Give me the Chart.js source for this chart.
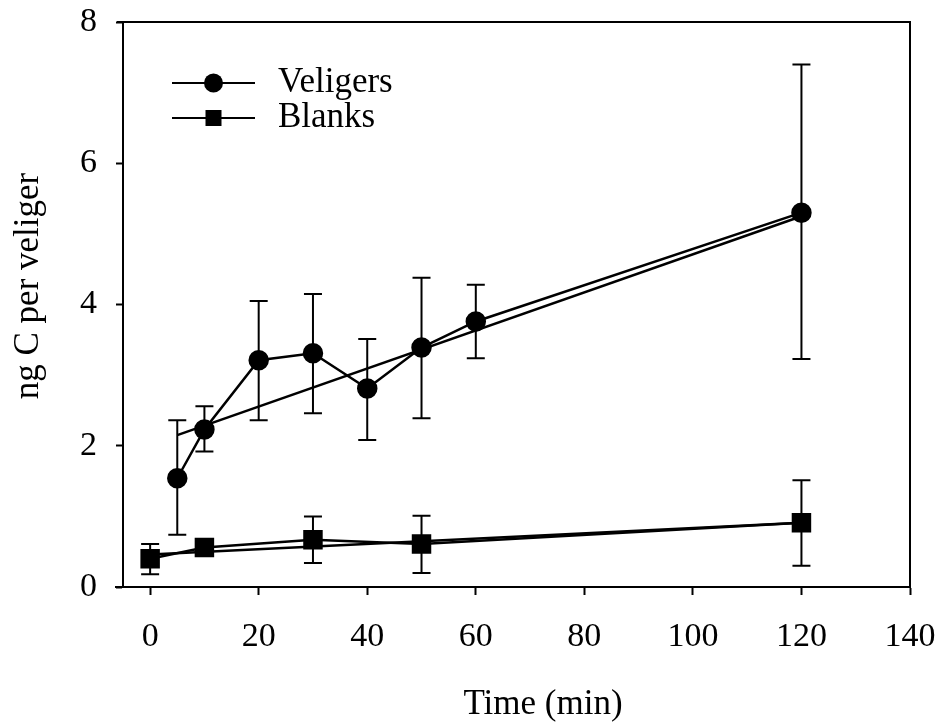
<!DOCTYPE html>
<html>
<head>
<meta charset="utf-8">
<script src="https://cdn.jsdelivr.net/npm/chart.js@4"></script>
<style>
  html, body { margin: 0; padding: 0; background: #fff; }
  #wrap { width: 945px; height: 728px; }
</style>
</head>
<body>
<div id="wrap"><canvas id="myChart" width="945" height="728"></canvas></div>
<script>
/* ---------- DATA ---------- */
const veligerX  = [5, 10, 20, 30, 40, 50, 60, 120];
const veligerY  = [1.54, 2.23, 3.21, 3.31, 2.81, 3.39, 3.76, 5.30];
const veligerHi = [2.36, 2.56, 4.05, 4.15, 3.51, 4.38, 4.28, 7.40];
const veligerLo = [0.74, 1.92, 2.36, 2.46, 2.08, 2.39, 3.24, 3.23];

const blankX  = [0, 10, 30, 50, 120];
const blankY  = [0.40, 0.56, 0.67, 0.61, 0.91];
const blankHi = [0.61, 0.60, 1.00, 1.01, 1.51];
const blankLo = [0.18, 0.50, 0.34, 0.20, 0.30];

// regression lines
const veligerFitX = [5, 120];
const veligerFitY = [2.15, 5.25];
const blankFitX = [0, 120];
const blankFitY = [0.46, 0.91];

const xTicks = [0, 20, 40, 60, 80, 100, 120, 140];
const yTicks = [0, 2, 4, 6, 8];

const seriesNames = ['Veligers', 'Blanks'];
const xTitle = 'Time (min)';
const yTitle = 'ng C per veliger';

/* ---------- HELPERS ---------- */
const FONT = 'Liberation Serif, Times New Roman, serif';
const pts = (xs, ys) => xs.map((x, i) => ({ x, y: ys[i] }));

/* ---------- PLUGINS ---------- */
const errorBars = {
    id: 'errorBars',
    afterDatasetsDraw(chart) {
        const { ctx, scales: { x, y } } = chart;
        const sets = [[veligerX, veligerLo, veligerHi], [blankX, blankLo, blankHi]];
        ctx.save();
        ctx.strokeStyle = '#000';
        ctx.lineWidth = 2;
        sets.forEach(([xs, lo, hi]) => {
            xs.forEach((v, i) => {
                const px = x.getPixelForValue(v);
                const p1 = y.getPixelForValue(lo[i]);
                const p2 = y.getPixelForValue(hi[i]);
                ctx.beginPath();
                ctx.moveTo(px, p1); ctx.lineTo(px, p2);
                ctx.moveTo(px - 9, p1); ctx.lineTo(px + 9, p1);
                ctx.moveTo(px - 9, p2); ctx.lineTo(px + 9, p2);
                ctx.stroke();
            });
        });
        ctx.restore();
    }
};

const frame = {
    id: 'frame',
    afterDraw(chart) {
        const { ctx, chartArea: a } = chart;
        ctx.save();
        ctx.strokeStyle = '#000';
        ctx.lineWidth = 2;
        ctx.beginPath();
        ctx.moveTo(a.left - 6, a.top); ctx.lineTo(a.right, a.top);
        ctx.lineTo(a.right, a.bottom);
        ctx.moveTo(a.left - 8, a.bottom); ctx.lineTo(a.left, a.bottom);
        ctx.stroke();
        ctx.restore();
    }
};

// axis titles sit a little off-centre in the original
const axisTitles = {
    id: 'axisTitles',
    afterDraw(chart) {
        const { ctx } = chart;
        ctx.save();
        ctx.fillStyle = '#000';
        ctx.font = '35px ' + FONT;
        ctx.textAlign = 'center';
        ctx.textBaseline = 'alphabetic';
        ctx.fillText(xTitle, 543, 714);
        ctx.translate(38, 286);
        ctx.rotate(-Math.PI / 2);
        ctx.fillText(yTitle, 0, 0);
        ctx.restore();
    }
};

const legendBox = {
    id: 'legendBox',
    afterDraw(chart) {
        const { ctx, chartArea: a } = chart;
        const x0 = a.left + 49, x1 = a.left + 132, mx = (x0 + x1) / 2;
        const rows = [a.top + 61, a.top + 96];
        ctx.save();
        ctx.strokeStyle = '#000';
        ctx.fillStyle = '#000';
        ctx.lineWidth = 2;
        rows.forEach((yy, i) => {
            ctx.beginPath();
            ctx.moveTo(x0, yy); ctx.lineTo(x1, yy);
            ctx.stroke();
            ctx.beginPath();
            if (i === 0) ctx.arc(mx, yy, 9.5, 0, Math.PI * 2);
            else ctx.rect(mx - 8, yy - 8, 16, 16);
            ctx.fill();
            ctx.font = '35px ' + FONT;
            ctx.textBaseline = 'middle';
            ctx.fillText(seriesNames[i], a.left + 155, yy);
        });
        ctx.restore();
    }
};

/* ---------- CHART ---------- */
const ctx = document.getElementById('myChart').getContext('2d');

new Chart(ctx, {
    type: 'scatter',
    data: {
        datasets: [
            {
                label: seriesNames[0],
                data: pts(veligerX, veligerY),
                showLine: true,
                borderColor: '#000',
                backgroundColor: '#000',
                borderWidth: 2.5,
                pointStyle: 'circle',
                pointRadius: 9,
                tension: 0
            },
            {
                label: seriesNames[1],
                data: pts(blankX, blankY),
                showLine: true,
                borderColor: '#000',
                backgroundColor: '#000',
                borderWidth: 2.5,
                pointStyle: 'rect',
                pointRadius: 12,
                tension: 0
            },
            {
                label: 'Veligers fit',
                data: pts(veligerFitX, veligerFitY),
                showLine: true,
                borderColor: '#000',
                borderWidth: 2.5,
                pointRadius: 0
            },
            {
                label: 'Blanks fit',
                data: pts(blankFitX, blankFitY),
                showLine: true,
                borderColor: '#000',
                borderWidth: 2.5,
                pointRadius: 0
            }
        ]
    },
    options: {
        responsive: false,
        animation: false,
        layout: { padding: { top: 22, right: 35, left: 0, bottom: 0 } },
        plugins: {
            legend: { display: false },
            tooltip: { enabled: false }
        },
        scales: {
            x: {
                type: 'linear',
                min: -5,
                max: 140,
                afterBuildTicks: scale => { scale.ticks = xTicks.map(v => ({ value: v })); },
                afterFit: scale => {
                    scale.height = 141;
                    scale.paddingLeft = 0;
                    scale.paddingRight = 0;
                },
                border: { display: true, color: '#000', width: 2 },
                grid: { drawOnChartArea: false, drawTicks: true, tickLength: 8, tickWidth: 2, tickColor: '#000' },
                ticks: { color: '#000', padding: 22, font: { family: FONT, size: 34 } },
                title: { display: false }
            },
            y: {
                type: 'linear',
                min: 0,
                max: 8,
                afterBuildTicks: scale => { scale.ticks = yTicks.map(v => ({ value: v })); },
                afterFit: scale => {
                    scale.width = 123;
                    scale.paddingTop = 0;
                    scale.paddingBottom = 0;
                },
                border: { display: true, color: '#000', width: 2 },
                grid: { drawOnChartArea: false, drawTicks: true, tickLength: 7, tickWidth: 2, tickColor: '#000' },
                ticks: { color: '#000', padding: 19, font: { family: FONT, size: 34 } },
                title: { display: false }
            }
        }
    },
    plugins: [errorBars, frame, axisTitles, legendBox]
});
</script>
</body>
</html>
